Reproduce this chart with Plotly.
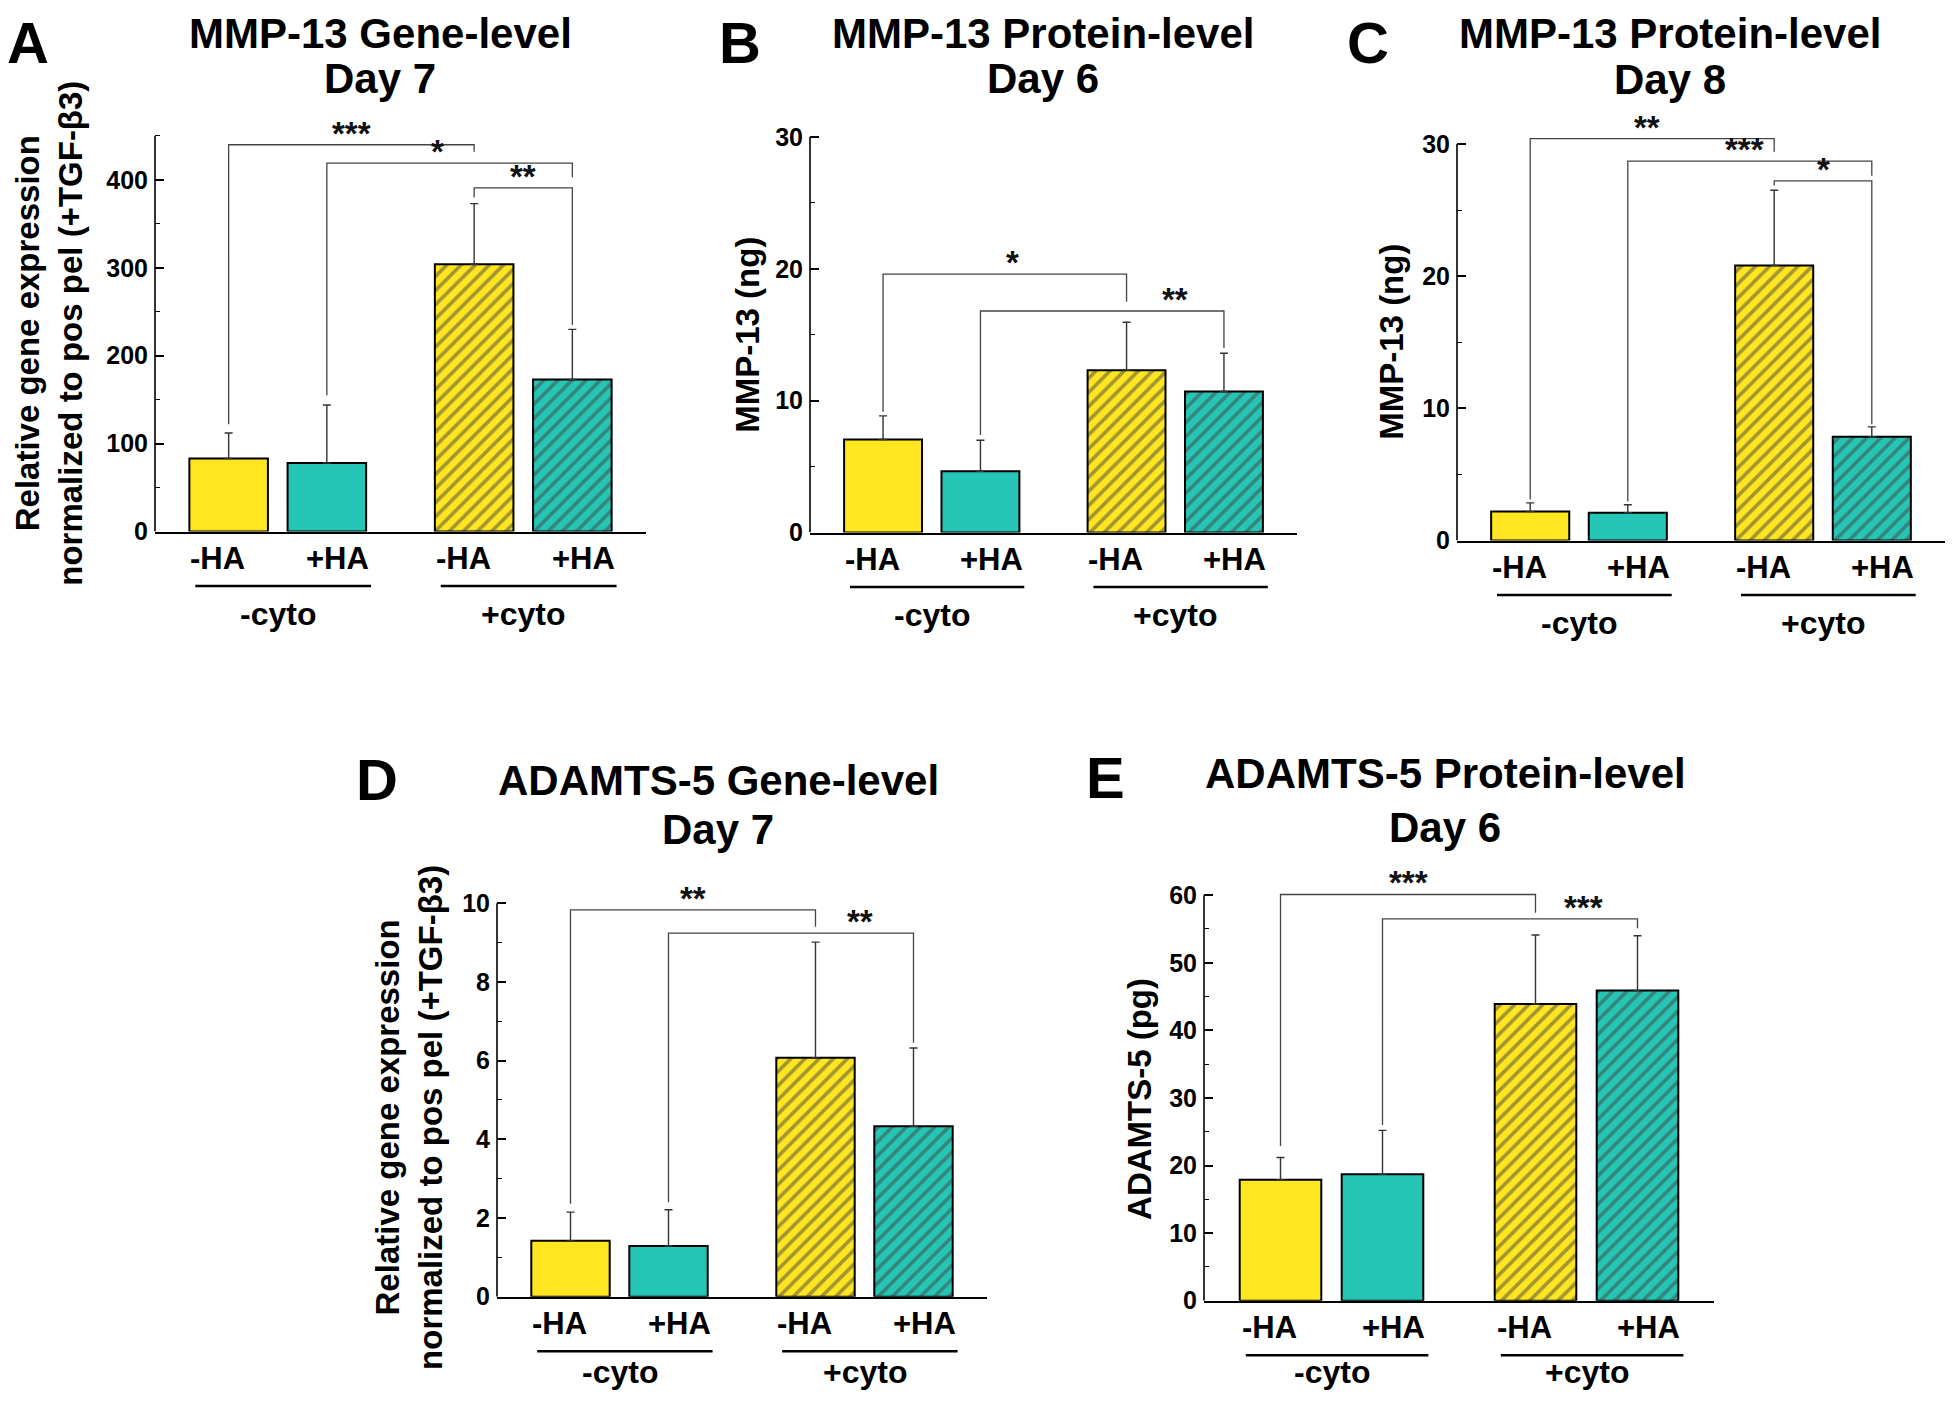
import plotly.graph_objects as go

# the html body adds an 8 px margin; the page photo also comes out ~1% shorter
# vertically, so page pixel positions are mapped through BODY and S_Y
PAGE_W, PAGE_H = 1953, 1413
BODY = 8
S_Y = 0.991
FIG_W, FIG_H = PAGE_W - 2 * BODY, PAGE_H - 2 * BODY
FONT = "Arial, Liberation Sans, sans-serif"
YELLOW = "#FFE620"
TEAL = "#26C6B6"
HEADROOM = 1.08

# shared categories
conditions = ["-HA", "+HA", "-HA", "+HA"]
cyto_groups = ["-cyto", "+cyto"]
cond_groups = [0, 0, 1, 1]

# A: MMP-13 gene level, day 7
a_mean = [83, 78, 304, 173]
a_err = [29, 66, 69, 57]
# B: MMP-13 protein level, day 6 (ng)
b_mean = [7.05, 4.65, 12.3, 10.7]
b_err = [1.8, 2.35, 3.65, 2.9]
# C: MMP-13 protein level, day 8 (ng)
c_mean = [2.2, 2.1, 20.8, 7.85]
c_err = [0.65, 0.6, 5.7, 0.75]
# D: ADAMTS-5 gene level, day 7
d_mean = [1.42, 1.29, 6.07, 4.33]
d_err = [0.73, 0.92, 2.94, 1.99]
# E: ADAMTS-5 protein level, day 6 (pg)
e_mean = [17.9, 18.7, 43.9, 45.9]
e_err = [3.3, 6.5, 10.2, 8.1]

# significance brackets: (bar i, bar j, bracket height, left leg end, right leg end, stars, label pos)
a_sig = [(0, 2, 440, 122, 432, "***", 0.5), (1, 3, 419, 155, 403, "*", 0.45),
         (2, 3, 391, 380, 235, "**", 0.5)]
b_sig = [(0, 2, 19.6, 9.15, 17.5, "*", 0.53), (1, 3, 16.8, 7.4, 14.0, "**", 0.8)]
c_sig = [(0, 2, 30.4, 3.1, 29.4, "**", 0.48), (1, 3, 28.7, 2.95, 27.6, "***", 0.48),
         (2, 3, 27.2, 26.85, 8.8, "*", 0.5)]
d_sig = [(0, 2, 9.83, 2.36, 9.4, "**", 0.5), (1, 3, 9.24, 2.4, 6.45, "**", 0.78)]
e_sig = [(0, 2, 60.1, 22.9, 57.4, "***", 0.5), (1, 3, 56.5, 26.0, 55.1, "***", 0.79)]

GENE_TITLE = "Relative gene expression<br>normalized to pos pel (+TGF-β3)"

# layout of each panel in page pixels: plot box (left, top, right, bottom)
panels = [
    dict(letter="A", title=["MMP-13 Gene-level", "Day 7"], ytitle=GENE_TITLE,
         mean=a_mean, err=a_err, sig=a_sig, ymax=450, dtick=100, minor=50,
         box=(155, 136, 646, 532), letter_xy=(28, 30), title_xy=(380, 32, 79), ytitle_xy=(49, 334)),
    dict(letter="B", title=["MMP-13 Protein-level", "Day 6"], ytitle="MMP-13 (ng)",
         mean=b_mean, err=b_err, sig=b_sig, ymax=30, dtick=10, minor=5,
         box=(810, 137, 1297, 533), letter_xy=(740, 33), title_xy=(1043, 32, 79), ytitle_xy=(748, 335)),
    dict(letter="C", title=["MMP-13 Protein-level", "Day 8"], ytitle="MMP-13 (ng)",
         mean=c_mean, err=c_err, sig=c_sig, ymax=30, dtick=10, minor=5,
         box=(1457, 144, 1945, 541), letter_xy=(1368, 32), title_xy=(1670, 31, 80), ytitle_xy=(1392, 342)),
    dict(letter="D", title=["ADAMTS-5 Gene-level", "Day 7"], ytitle=GENE_TITLE,
         mean=d_mean, err=d_err, sig=d_sig, ymax=10, dtick=2, minor=1,
         box=(497, 904, 987, 1298), letter_xy=(377, 780), title_xy=(718, 781, 830), ytitle_xy=(409, 1119)),
    dict(letter="E", title=["ADAMTS-5 Protein-level", "Day 6"], ytitle="ADAMTS-5 (pg)",
         mean=e_mean, err=e_err, sig=e_sig, ymax=60, dtick=10, minor=5,
         box=(1204, 896, 1714, 1302), letter_xy=(1105, 778), title_xy=(1445, 774, 828), ytitle_xy=(1140, 1100)),
]

# bar positions: one unit between bars, extra half unit between the cyto groups
xpos = [i + 1 + 0.5 * g for i, g in enumerate(cond_groups)]
group_centers = [sum(x for x, g in zip(xpos, cond_groups) if g == k) / 2 for k in range(2)]
bar_colors = [YELLOW if c.startswith("-") else TEAL for c in conditions]
bar_shapes = ["" if g == 0 else "/" for g in cond_groups]


def fx(x):
    return min(1.0, max(0.0, (x - BODY) / FIG_W))


def fig_px(y):
    return y / S_Y - BODY


def fy(y):
    return min(1.0, max(0.0, 1 - fig_px(y) / FIG_H))


def text_y(y, size):
    # centre of a one-line text, kept inside the figure
    half = 0.58 * size
    c = min(max(fig_px(y), half + 1), FIG_H - half - 1)
    return 1 - c / FIG_H


def bold(size, color="black"):
    return dict(family=FONT, size=size, color=color, weight="bold")


fig = go.Figure()
annotations = []
shapes = []

for n, p in enumerate(panels):
    sfx = "" if n == 0 else str(n + 1)
    xa, ya = "x" + sfx, "y" + sfx
    left, top, right, bottom = p["box"]
    ymax = p["ymax"]
    # a little headroom above the drawn axis so brackets are not clipped
    top_ext = bottom - (bottom - top) * HEADROOM
    major = [k * p["dtick"] for k in range(int(round(ymax / p["dtick"])) + 1)]
    minor = [m + p["minor"] for m in major if m + p["minor"] <= ymax]

    fig.add_trace(go.Bar(
        x=xpos, y=p["mean"], width=0.8, xaxis=xa, yaxis=ya, showlegend=False,
        marker=dict(color=bar_colors, line=dict(color="black", width=2),
                    pattern=dict(shape=bar_shapes, fillmode="overlay", fgcolor="#000000",
                                 size=10, solidity=0.36)),
        error_y=dict(type="data", array=p["err"], arrayminus=[0] * 4, symmetric=False,
                     color="#333333", thickness=1.4, width=4),
    ))
    fig.layout["xaxis" + sfx] = dict(
        domain=[fx(left), fx(right)], anchor=ya, range=[0.25, 5.25],
        showline=True, linecolor="black", linewidth=1.6, showticklabels=False,
        ticks="", showgrid=False, zeroline=False, fixedrange=True)
    fig.layout["yaxis" + sfx] = dict(
        domain=[fy(bottom), fy(top_ext)], anchor=xa, range=[0, ymax * HEADROOM],
        tickmode="array", tickvals=major, showline=False,
        ticks="inside", ticklen=9, tickwidth=1.5, tickcolor="black",
        minor=dict(tickmode="array", tickvals=minor, ticks="inside", ticklen=5,
                   tickwidth=1.3, tickcolor="black"),
        tickfont=bold(25), ticklabelstandoff=6,
        showgrid=False, zeroline=False, fixedrange=True)
    # visible y-axis line only up to the last tick
    shapes.append(dict(type="line", xref=xa + " domain", yref=ya, x0=0, x1=0, y0=0, y1=ymax,
                       line=dict(color="black", width=1.6)))

    # significance brackets
    for i, j, h, l_end, r_end, stars, frac in p["sig"]:
        path = f"M{xpos[i]},{l_end} L{xpos[i]},{h} L{xpos[j]},{h} L{xpos[j]},{r_end}"
        shapes.append(dict(type="path", xref=xa, yref=ya, path=path,
                           line=dict(color="#444444", width=1.3)))
        annotations.append(dict(
            xref=xa, yref=ya, x=xpos[i] + frac * (xpos[j] - xpos[i]), y=h, text=stars,
            showarrow=False, yanchor="bottom", yshift=-9, font=bold(33, "#111111")))

    # condition labels under the bars
    for x, c in zip(xpos, conditions):
        annotations.append(dict(
            xref=xa, yref=ya + " domain", x=x, y=0, text=c, showarrow=False,
            yanchor="middle", yshift=-27 / S_Y, xshift=-11 if c.startswith("-") else 11,
            font=bold(31)))
    # group underline and label (label kept inside the bottom edge)
    room = FIG_H - 0.58 * 32 - 1 - fig_px(bottom)
    for gc, g in zip(group_centers, cyto_groups):
        shapes.append(dict(
            type="line", xref=xa, yref=ya + " domain", x0=gc - 0.84, x1=gc + 0.95,
            ysizemode="pixel", yanchor=0, y0=-54 / S_Y, y1=-54 / S_Y,
            line=dict(color="black", width=2.6)))
        annotations.append(dict(
            xref=xa, yref=ya + " domain", x=gc, y=0, text=g, showarrow=False,
            yanchor="middle", yshift=-min(82 / S_Y, room), font=bold(32)))

    # panel letter, title, y-axis title
    lx, ly = p["letter_xy"]
    annotations.append(dict(xref="paper", yref="paper", x=fx(lx), y=text_y(ly, 58),
                            text=p["letter"], showarrow=False, xanchor="center",
                            yanchor="middle", font=bold(58)))
    tx, ty1, ty2 = p["title_xy"]
    for line, ty in zip(p["title"], (ty1, ty2)):
        annotations.append(dict(xref="paper", yref="paper", x=fx(tx), y=text_y(ty, 42),
                                text=line, showarrow=False, xanchor="center",
                                yanchor="middle", font=bold(42)))
    yx, yy = p["ytitle_xy"]
    annotations.append(dict(xref="paper", yref="paper", x=fx(yx), y=fy(yy), text=p["ytitle"],
                            showarrow=False, textangle=-90, xanchor="center", yanchor="middle",
                            font=bold(33)))

fig.update_layout(
    width=FIG_W, height=FIG_H, margin=dict(l=0, r=0, t=0, b=0),
    paper_bgcolor="white", plot_bgcolor="white",
    annotations=annotations, shapes=shapes,
)

fig.write_html("out.html")
